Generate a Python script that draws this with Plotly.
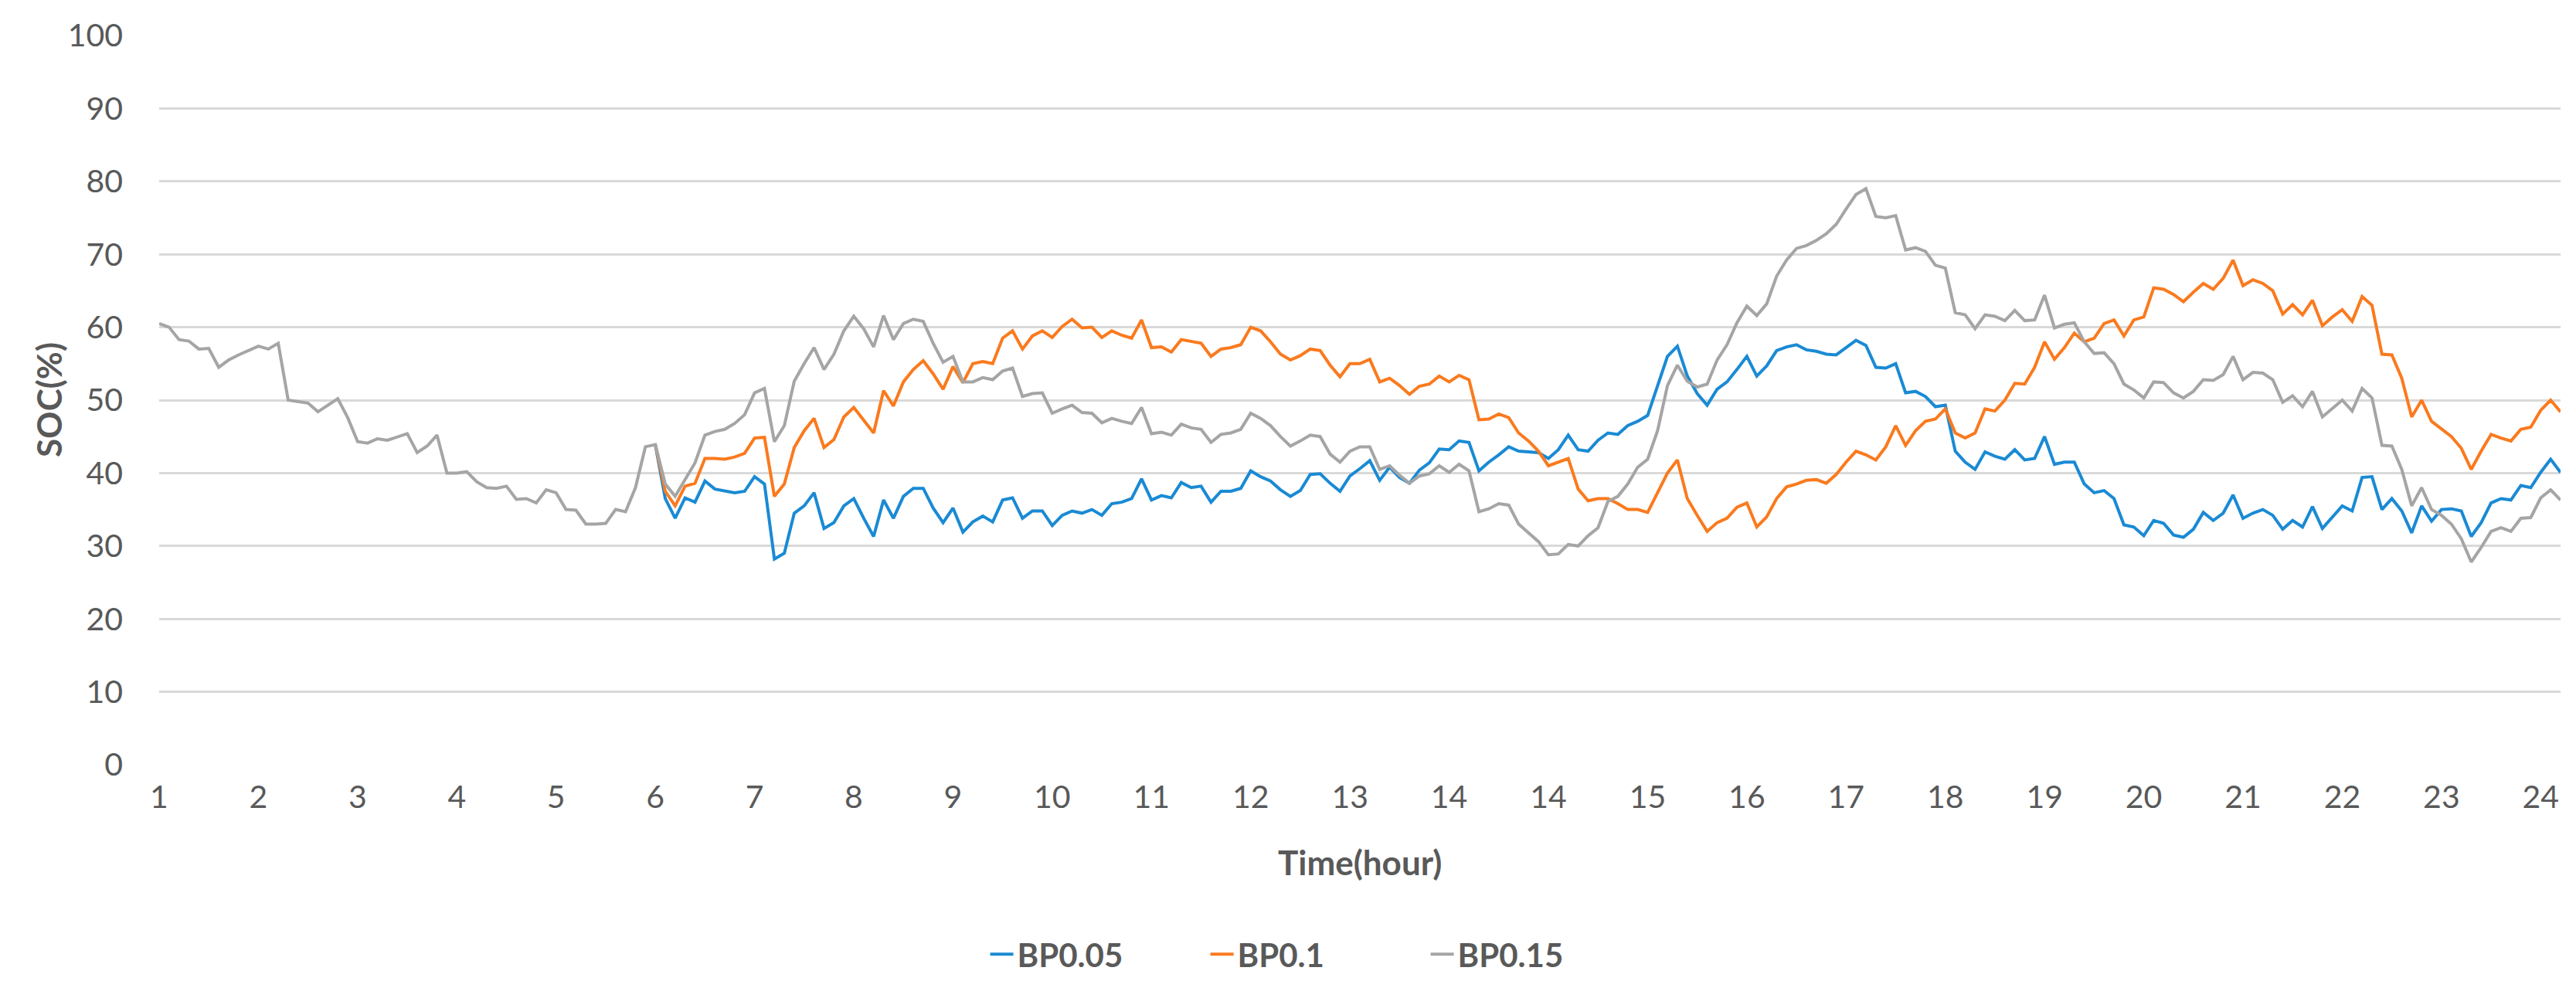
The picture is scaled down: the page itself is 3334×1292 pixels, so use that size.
import plotly.graph_objects as go

# x tick labels (category positions 0..24); note the repeated "14" in the original
tick_labels = ["1", "2", "3", "4", "5", "6", "7", "8", "9", "10", "11", "12", "13",
               "14", "14", "15", "16", "17", "18", "19", "20", "21", "22", "23", "24"]

series_names = ["BP0.05", "BP0.1", "BP0.15"]

# BP0.15 (gray) sampled every 0.1 of a tick interval, starting at tick position 0
bp015 = [
    60.5, 60.0, 58.3, 58.1, 57.0, 57.1, 54.5, 55.5, 56.2, 56.8,
    57.4, 57.0, 57.8, 50.0, 49.8, 49.6, 48.4, 49.3, 50.2, 47.6,
    44.3, 44.1, 44.7, 44.5, 44.9, 45.4, 42.8, 43.7, 45.2, 40.0,
    40.0, 40.2, 38.8, 38.0, 37.9, 38.2, 36.4, 36.5, 35.9, 37.7,
    37.3, 35.0, 34.9, 33.0, 33.0, 33.1, 35.0, 34.7, 38.0, 43.6,
    43.9, 38.5, 36.8, 39.2, 41.4, 45.2, 45.7, 46.0, 46.8, 48.0,
    51.0, 51.6, 44.3, 46.5, 52.6, 55.0, 57.2, 54.2, 56.3, 59.5,
    61.5, 59.8, 57.3, 61.6, 58.3, 60.5, 61.1, 60.8, 57.8, 55.2,
    56.0, 52.5, 52.5, 53.1, 52.8, 54.0, 54.4, 50.5, 50.9, 51.0,
    48.2, 48.8, 49.3, 48.3, 48.2, 46.9, 47.5, 47.1, 46.8, 49.0,
    45.4, 45.6, 45.2, 46.7, 46.2, 46.0, 44.2, 45.3, 45.5, 46.0,
    48.2, 47.5, 46.5, 45.0, 43.7, 44.4, 45.2, 45.0, 42.6, 41.5,
    43.0, 43.6, 43.6, 40.5, 41.0, 39.7, 38.6, 39.6, 39.9, 41.0,
    40.1, 41.2, 40.3, 34.7, 35.1, 35.8, 35.6, 33.0, 31.8, 30.6,
    28.8, 28.9, 30.2, 30.0, 31.4, 32.5, 36.1, 36.8, 38.5, 40.8,
    41.9, 45.8, 52.0, 54.8, 52.6, 51.8, 52.2, 55.5, 57.6, 60.6,
    62.9, 61.6, 63.2, 67.0, 69.2, 70.8, 71.2, 71.9, 72.8, 74.1,
    76.2, 78.2, 79.0, 75.2, 75.0, 75.3, 70.6, 70.9, 70.4, 68.5,
    68.1, 62.0, 61.7, 59.8, 61.7, 61.5, 60.9, 62.3, 60.9, 61.0,
    64.4, 59.9, 60.4, 60.6, 58.0, 56.4, 56.5, 55.0, 52.2, 51.4,
    50.3, 52.5, 52.4, 51.0, 50.3, 51.2, 52.8, 52.7, 53.5, 56.0,
    52.8, 53.8, 53.7, 52.8, 49.7, 50.6, 49.1, 51.2, 47.7, 48.8,
    50.0, 48.5, 51.6, 50.3, 43.8, 43.7, 40.5, 35.5, 38.0, 35.0,
    34.2, 33.0, 31.0, 27.8, 29.8, 32.0, 32.5, 32.0, 33.8, 33.9,
    36.6, 37.7, 36.3,
]

# BP0.05 (blue) and BP0.1 (orange) start at tick position 5.0 (before that they coincide with gray)
bp005 = [
    43.9, 36.5, 33.8, 36.6, 36.0, 38.9, 37.8, 37.6, 37.3, 37.5,
    39.5, 38.5, 28.2, 29.0, 34.5, 35.5, 37.3, 32.4, 33.2, 35.5,
    36.5, 33.8, 31.3, 36.3, 33.8, 36.8, 37.9, 37.9, 35.2, 33.2,
    35.2, 31.9, 33.3, 34.1, 33.3, 36.3, 36.6, 33.8, 34.8, 34.8,
    32.8, 34.2, 34.8, 34.5, 35.0, 34.2, 35.8, 36.0, 36.5, 39.2,
    36.3, 36.9, 36.6, 38.7, 38.0, 38.2, 36.0, 37.5, 37.5, 37.9,
    40.3, 39.5, 38.9, 37.7, 36.8, 37.6, 39.8, 39.9, 38.6, 37.5,
    39.6, 40.6, 41.7, 39.0, 40.8, 39.4, 38.6, 40.4, 41.4, 43.3,
    43.2, 44.4, 44.2, 40.3, 41.5, 42.5, 43.6, 43.0, 42.9, 42.8,
    42.0, 43.2, 45.2, 43.2, 43.0, 44.5, 45.5, 45.3, 46.5, 47.1,
    47.9, 51.8, 56.0, 57.4, 53.3, 50.9, 49.3, 51.5, 52.5, 54.2,
    56.0, 53.3, 54.7, 56.8, 57.3, 57.6, 56.9, 56.7, 56.3, 56.2,
    57.2, 58.2, 57.5, 54.5, 54.4, 55.0, 51.0, 51.2, 50.5, 49.1,
    49.3, 43.0, 41.5, 40.5, 42.9, 42.3, 41.9, 43.2, 41.8, 42.0,
    45.0, 41.2, 41.5, 41.5, 38.5, 37.3, 37.6, 36.5, 32.9, 32.6,
    31.4, 33.5, 33.1, 31.5, 31.2, 32.3, 34.6, 33.5, 34.5, 37.0,
    33.8, 34.5, 35.0, 34.2, 32.3, 33.5, 32.6, 35.4, 32.4, 33.9,
    35.5, 34.8, 39.4, 39.5, 35.0, 36.5, 34.8, 31.8, 35.5, 33.4,
    35.0, 35.1, 34.8, 31.3, 33.2, 35.9, 36.5, 36.3, 38.3, 38.0,
    40.1, 41.9, 40.1,
]

bp01 = [
    43.9, 37.5, 35.5, 38.2, 38.6, 42.0, 42.0, 41.9, 42.2, 42.7,
    44.8, 44.9, 36.8, 38.5, 43.5, 45.8, 47.5, 43.5, 44.6, 47.7,
    49.0, 47.3, 45.5, 51.3, 49.2, 52.5, 54.2, 55.4, 53.6, 51.5,
    54.6, 52.4, 55.0, 55.3, 55.0, 58.5, 59.5, 57.0, 58.8, 59.5,
    58.6, 60.1, 61.1, 59.9, 60.0, 58.6, 59.5, 58.9, 58.5, 61.0,
    57.2, 57.3, 56.6, 58.3, 58.0, 57.8, 56.0, 57.0, 57.2, 57.6,
    60.0, 59.5, 58.0, 56.3, 55.5, 56.1, 57.0, 56.8, 54.8, 53.2,
    55.0, 55.0, 55.6, 52.5, 53.0, 52.0, 50.8, 51.9, 52.2, 53.3,
    52.5, 53.4, 52.8, 47.3, 47.4, 48.1, 47.6, 45.5, 44.4, 43.0,
    41.0, 41.5, 42.0, 37.8, 36.2, 36.5, 36.5, 35.8, 35.0, 35.0,
    34.6, 37.3, 40.0, 41.8, 36.5, 34.2, 32.0, 33.2, 33.8, 35.3,
    35.9, 32.6, 34.0, 36.5, 38.1, 38.5, 39.0, 39.1, 38.6, 39.8,
    41.5, 43.0, 42.5, 41.8, 43.6, 46.5, 43.8, 45.8, 47.1, 47.4,
    48.8, 45.5, 44.8, 45.5, 48.8, 48.5, 50.0, 52.3, 52.2, 54.5,
    58.0, 55.6, 57.2, 59.2, 58.0, 58.5, 60.5, 61.0, 58.8, 61.0,
    61.4, 65.4, 65.2, 64.5, 63.5, 64.8, 66.0, 65.2, 66.7, 69.2,
    65.7, 66.5, 66.0, 65.0, 61.8, 63.1, 61.7, 63.7, 60.2, 61.4,
    62.4, 60.8, 64.2, 63.0, 56.3, 56.2, 53.0, 47.7, 50.0, 47.1,
    46.0, 45.0, 43.4, 40.5, 43.0, 45.3, 44.8, 44.4, 46.0, 46.3,
    48.6, 50.0, 48.4,
]

step = 0.1
x_gray = [round(k * step, 1) for k in range(len(bp015))]
x_blue = [round(5.0 + k * step, 1) for k in range(len(bp005))]
x_orange = [round(5.0 + k * step, 1) for k in range(len(bp01))]

colors = ["#1A8AD4", "#FA7A1E", "#A5A5A5"]
text_color = "#595959"
FONT = "Lato"

fig = go.Figure()
for name, xs, ys, c in [(series_names[0], x_blue, bp005, colors[0]),
                        (series_names[1], x_orange, bp01, colors[1]),
                        (series_names[2], x_gray, bp015, colors[2])]:
    fig.add_trace(go.Scatter(x=xs, y=ys, mode="lines", name=name,
                             line=dict(color=c, width=4, shape="linear")))

fig.update_layout(
    width=3334, height=1292,
    paper_bgcolor="white", plot_bgcolor="white",
    margin=dict(l=198, r=28, t=36, b=310),
    font=dict(family=FONT, color=text_color, size=40),
    showlegend=True,
    legend=dict(orientation="h", x=0.482, xanchor="center", y=-0.26, yanchor="middle",
                font=dict(family=FONT, size=42, color=text_color, weight="bold"),
                entrywidth=240, entrywidthmode="pixels", tracegroupgap=0),
    xaxis=dict(range=[0, 24.2], tickmode="array", tickvals=list(range(len(tick_labels))),
               ticktext=tick_labels, showgrid=False, zeroline=False, showline=False,
               ticks="", ticklabelstandoff=14,
               tickfont=dict(family=FONT, size=41, color=text_color)),
    yaxis=dict(range=[0, 100], tickmode="linear", tick0=0, dtick=10,
               showgrid=True, gridcolor="#D9D9D9", gridwidth=3, zeroline=False,
               showline=False, ticks="", ticklabelstandoff=46,
               tickfont=dict(family=FONT, size=41, color=text_color)),
    annotations=[
        dict(text="Time(hour)", xref="paper", yref="paper", x=0.5, y=-0.134,
             xanchor="center", yanchor="middle", showarrow=False,
             font=dict(family=FONT, size=44, color=text_color, weight="bold")),
        dict(text="SOC(%)", xref="paper", yref="paper", x=-0.046, y=0.5,
             xanchor="center", yanchor="middle", showarrow=False, textangle=-90,
             font=dict(family=FONT, size=44, color=text_color, weight="bold")),
    ],
)

fig.write_html("out.html")
